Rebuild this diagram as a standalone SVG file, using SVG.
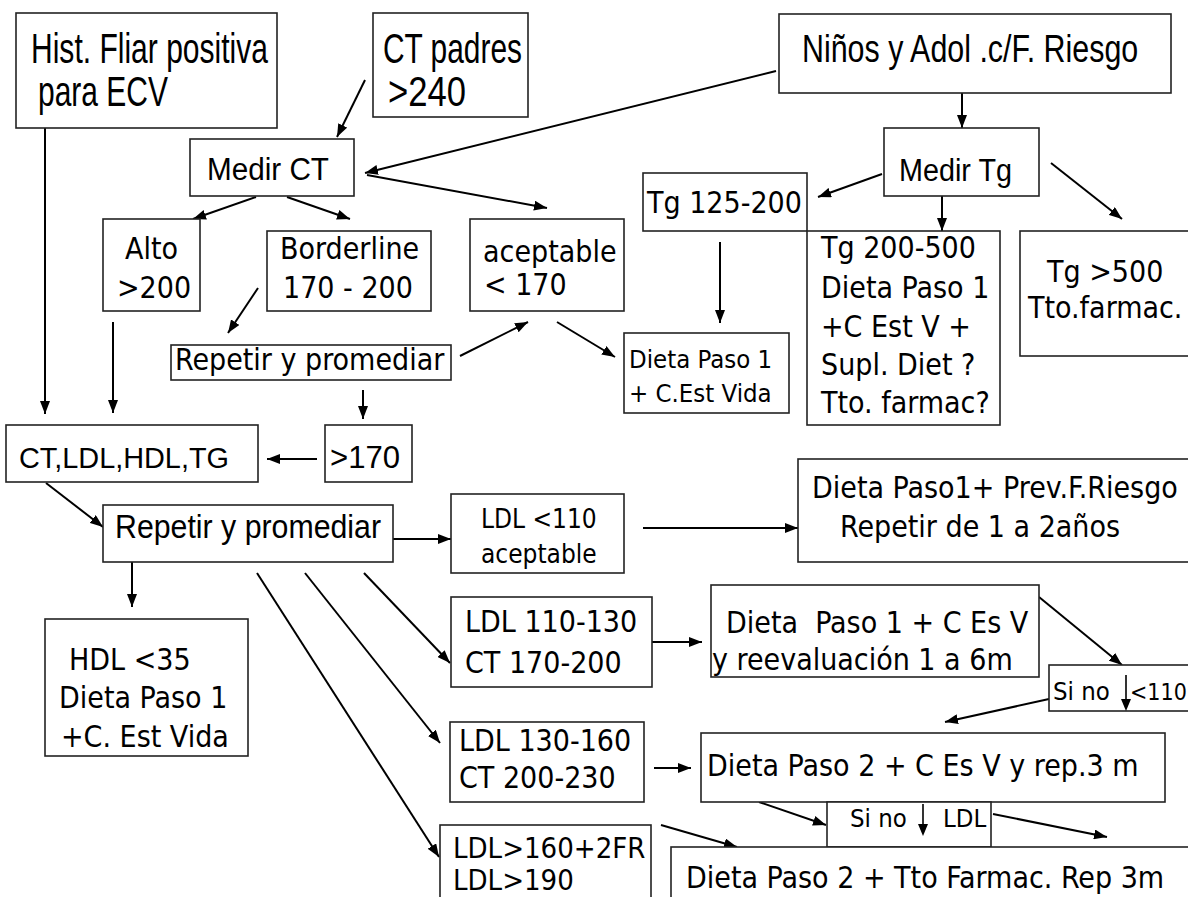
<svg xmlns="http://www.w3.org/2000/svg" width="1188" height="897" viewBox="0 0 1188 897">
<style>
rect{fill:#fff;stroke:#222;stroke-width:1.6}
.a{font-family:"Liberation Sans",Arial,sans-serif;fill:#000}
.v{font-family:"DejaVu Sans Condensed","DejaVu Sans",Verdana,sans-serif;font-size:30px;fill:#000}
.s{font-size:25.5px}
#conn line{stroke:#000;stroke-width:2;marker-end:url(#ah)}
line.plain{stroke:#000;stroke-width:1.6}
</style>
<defs>
<marker id="ah" markerUnits="userSpaceOnUse" markerWidth="14" markerHeight="10" refX="13" refY="5" orient="auto">
<path d="M0,0 L13,5 L0,10 z" fill="#000"/>
</marker>
</defs>
<rect x="0" y="0" width="1188" height="897" style="stroke:none"/>

<g id="conn">
<line x1="45" y1="128" x2="45" y2="414"/>
<line x1="365" y1="80" x2="337" y2="137"/>
<line x1="776" y1="71" x2="365" y2="173"/>
<line x1="962" y1="93" x2="962" y2="128"/>
<line x1="367" y1="175" x2="547" y2="208"/>
<line x1="256" y1="197" x2="193" y2="219"/>
<line x1="287" y1="197" x2="350" y2="219"/>
<line x1="882" y1="174" x2="818" y2="197"/>
<line x1="942" y1="196" x2="942" y2="231"/>
<line x1="1051" y1="163" x2="1122" y2="219"/>
<line x1="720" y1="242" x2="720" y2="323"/>
<line x1="557" y1="322" x2="615" y2="357"/>
<line x1="258" y1="288" x2="228" y2="333"/>
<line x1="460" y1="356" x2="528" y2="322"/>
<line x1="113" y1="322" x2="113" y2="413"/>
<line x1="363" y1="390" x2="363" y2="419"/>
<line x1="317" y1="459" x2="267" y2="459"/>
<line x1="46" y1="483" x2="103" y2="527"/>
<line x1="393" y1="539" x2="451" y2="539"/>
<line x1="643" y1="528" x2="798" y2="528"/>
<line x1="132" y1="562" x2="132" y2="607"/>
<line x1="364" y1="573" x2="450" y2="663"/>
<line x1="305" y1="573" x2="440" y2="743"/>
<line x1="257" y1="573" x2="439" y2="857"/>
<line x1="652" y1="642" x2="702" y2="642"/>
<line x1="1039" y1="597" x2="1122" y2="665"/>
<line x1="1049" y1="699" x2="945" y2="722"/>
<line x1="654" y1="768" x2="691" y2="768"/>
<line x1="759" y1="802" x2="826" y2="825"/>
<line x1="993" y1="814" x2="1107" y2="837"/>
<line x1="661" y1="825" x2="737" y2="847"/>
</g>

<g id="n-hist"><rect x="16" y="13" width="261" height="115"/>
<text class="a" font-size="42" x="31" y="63" textLength="237" lengthAdjust="spacingAndGlyphs">Hist. Fliar positiva</text>
<text class="a" font-size="42" x="38" y="106" textLength="130" lengthAdjust="spacingAndGlyphs">para ECV</text></g>

<g id="n-ctpadres"><rect x="373" y="13" width="155" height="104"/>
<text class="a" font-size="42" x="383" y="63" textLength="139" lengthAdjust="spacingAndGlyphs">CT padres</text>
<text class="a" font-size="42" x="388" y="106" textLength="78" lengthAdjust="spacingAndGlyphs">&gt;240</text></g>

<g id="n-ninos"><rect x="779" y="14" width="392" height="79"/>
<text class="a" font-size="38" transform="translate(802,62) scale(0.8,1)">Niños y Adol .c/F. Riesgo</text></g>

<g id="n-medirct"><rect x="190" y="139" width="164" height="57"/>
<text class="a" font-size="31" x="207" y="180" textLength="122" lengthAdjust="spacingAndGlyphs">Medir CT</text></g>

<g id="n-medirtg"><rect x="884" y="128" width="155" height="68"/>
<text class="a" font-size="31" x="899" y="181" textLength="113" lengthAdjust="spacingAndGlyphs">Medir Tg</text></g>

<g id="n-alto"><rect x="103" y="219" width="97" height="92"/>
<text class="v" x="125" y="259">Alto</text>
<text class="v" x="117" y="298">&gt;200</text></g>

<g id="n-borderline"><rect x="267" y="231" width="164" height="80"/>
<text class="v" x="280" y="259">Borderline</text>
<text class="v" x="283" y="298">170 - 200</text></g>

<g id="n-aceptable"><rect x="470" y="219" width="154" height="92"/>
<text class="v" x="483" y="262">aceptable</text>
<text class="v" x="484" y="295">&lt; 170</text></g>

<g id="n-tg125"><rect x="643" y="173" width="164" height="58"/>
<text class="v" x="647" y="213">Tg 125-200</text></g>

<g id="n-tg200"><rect x="807" y="231" width="193" height="194"/>
<text class="v" x="821" y="258">Tg 200-500</text>
<text class="v" x="821" y="298">Dieta Paso 1</text>
<text class="v" x="821" y="337">+C Est V +</text>
<text class="v" x="821" y="375">Supl. Diet ?</text>
<text class="v" x="821" y="413">Tto. farmac?</text></g>

<g id="n-tg500"><rect x="1020" y="231" width="180" height="125"/>
<text class="v" x="1047" y="282">Tg &gt;500</text>
<text class="v" x="1028" y="318">Tto.farmac.</text></g>

<g id="n-dieta1"><rect x="624" y="333" width="165" height="80"/>
<text class="v s" x="629" y="368">Dieta Paso 1</text>
<text class="v s" x="629" y="402">+ C.Est Vida</text></g>

<g id="n-repetir1"><rect x="171" y="345" width="280" height="35"/>
<text class="v" x="175" y="370">Repetir y promediar</text></g>

<g id="n-ctldl"><rect x="6" y="425" width="252" height="57"/>
<text class="a" font-size="30" x="19" y="468" textLength="210" lengthAdjust="spacingAndGlyphs">CT,LDL,HDL,TG</text></g>

<g id="n-170"><rect x="325" y="425" width="87" height="57"/>
<text class="a" font-size="31" x="330" y="468" textLength="70" lengthAdjust="spacingAndGlyphs">&gt;170</text></g>

<g id="n-repetir2"><rect x="103" y="505" width="290" height="57"/>
<text class="a" font-size="34" x="115" y="538" textLength="266" lengthAdjust="spacingAndGlyphs">Repetir y promediar</text></g>

<g id="n-ldl110"><rect x="451" y="494" width="173" height="79"/>
<text class="v" style="font-size:26px" x="481" y="528">LDL &lt;110</text>
<text class="v" style="font-size:26px" x="481" y="563">aceptable</text></g>

<g id="n-prev"><rect x="798" y="459" width="400" height="103"/>
<text class="v" x="812" y="498">Dieta Paso1+ Prev.F.Riesgo</text>
<text class="v" x="840" y="537">Repetir de 1 a 2años</text></g>

<g id="n-hdl"><rect x="45" y="619" width="203" height="137"/>
<text class="v" x="69" y="670">HDL &lt;35</text>
<text class="v" x="59" y="708">Dieta Paso 1</text>
<text class="v" x="61" y="747">+C. Est Vida</text></g>

<g id="n-ldl110130"><rect x="451" y="597" width="201" height="90"/>
<text class="v" x="465" y="632">LDL 110-130</text>
<text class="v" x="465" y="673">CT 170-200</text></g>

<g id="n-dietacesv"><rect x="711" y="585" width="328" height="92"/>
<text class="v" x="726" y="633" xml:space="preserve">Dieta  Paso 1 + C Es V</text>
<text class="v" x="712" y="670">y reevaluación 1 a 6m</text></g>

<g id="n-sino1"><rect x="1049" y="665" width="150" height="46"/>
<text class="v s" x="1053" y="700">Si no</text>
<line class="plain" x1="1126" y1="675" x2="1126" y2="700"/>
<path d="M1121,699 L1131,699 L1126,711 z" fill="#000"/>
<text class="v" style="font-size:23px" x="1130" y="700">&lt;110</text></g>

<g id="n-ldl130160"><rect x="450" y="722" width="194" height="80"/>
<text class="v" x="459" y="751">LDL 130-160</text>
<text class="v" x="459" y="788">CT 200-230</text></g>

<g id="n-dieta2"><rect x="701" y="733" width="464" height="69"/>
<text class="v" x="707" y="776">Dieta Paso 2 + C Es V y rep.3 m</text></g>

<g id="n-sino2"><rect x="827" y="802" width="164" height="45"/>
<text class="v s" x="850" y="827">Si no</text>
<line class="plain" x1="923" y1="804" x2="923" y2="826"/>
<path d="M918,824 L928,824 L923,836 z" fill="#000"/>
<text class="v s" x="943" y="827">LDL</text></g>

<g id="n-ldl160"><rect x="440" y="825" width="211" height="80"/>
<text class="v" style="font-size:29px" x="453" y="858">LDL&gt;160+2FR</text>
<text class="v" style="font-size:29px" x="453" y="890">LDL&gt;190</text></g>

<g id="n-farmac"><rect x="671" y="847" width="530" height="60"/>
<text class="v" x="686" y="888">Dieta Paso 2 + Tto Farmac. Rep 3m</text></g>
</svg>
